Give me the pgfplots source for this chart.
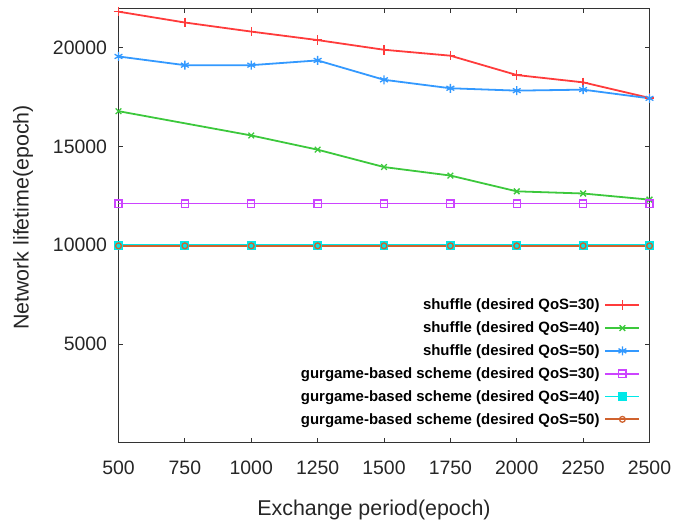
\documentclass[border=0pt]{standalone}
\usepackage{pgfplots}
\pgfplotsset{compat=1.18}
\usepackage{fontspec}
\setmainfont{Liberation Sans}
\definecolor{cRed}{HTML}{FF3B3B}
\definecolor{cGreen}{HTML}{3CC83C}
\definecolor{cBlue}{HTML}{3399FF}
\definecolor{cMag}{HTML}{CC44FF}
\definecolor{cCyan}{HTML}{00E8E8}
\definecolor{cOrange}{HTML}{D0622E}
\begin{document}
\begin{tikzpicture}
\useasboundingbox (-118.5bp,-80.3bp) rectangle (556.5bp,434.4bp+8.3bp);
\begin{axis}[
  scale only axis,
  width=531bp, height=434.4bp,
  xmin=500, xmax=2500, ymin=0, ymax=22000,
  xtick={500,750,1000,1250,1500,1750,2000,2250,2500},
  ytick={5000,10000,15000,20000},
  scaled y ticks=false, scaled x ticks=false,
  tick pos=both, tick align=inside,
  major tick length=4.5bp,
  axis line style={black!80, line width=1.2pt},
  every tick/.style={black!80, line width=0.9pt},
  /pgf/number format/assume math mode=true,
  /pgf/number format/1000 sep={},
  tick label style={font=\fontsize{19.5}{22}\selectfont, text=black!85},
  xticklabel style={yshift=-15bp},
  yticklabel style={xshift=-8bp},
  xlabel={Exchange period(epoch)},
  ylabel={Network lifetime(epoch)},
  label style={font=\fontsize{21.5}{24}\selectfont, text=black!85},
  xlabel style={yshift=-18bp, xshift=-10bp},
  ylabel style={yshift=13bp, xshift=8bp},
  legend style={draw=none, fill=none, at={(rel axis cs:1,0)}, anchor=south east,
    xshift=-9bp, yshift=17bp,
    font=\bfseries\fontsize{15}{16}\selectfont,
    row sep=10.5bp, inner sep=0pt,
    nodes={inner xsep=5bp, inner ysep=0pt}},
  legend cell align=right,
  legend plot pos=right,
  legend image code/.code={
    \draw[line width=1.8pt, #1, mark repeat=2, mark phase=2] plot coordinates {(0bp,0bp) (17bp,0bp) (34bp,0bp)};
  },
  every axis plot/.append style={line width=1.8pt, mark size=4.8bp},
]
\addplot[cRed, mark=+, mark options={line width=1.3pt}] coordinates {
 (500,21830) (750,21280) (1000,20820) (1250,20390) (1500,19900)
 (1750,19600) (2000,18620) (2250,18250) (2500,17460)};
\addlegendentry{shuffle (desired QoS=30)}
\addplot[cGreen, mark=x, mark size=4bp, mark options={line width=1.3pt}] coordinates {
 (500,16790) (1000,15560) (1250,14840) (1500,13960)
 (1750,13530) (2000,12730) (2250,12620) (2500,12310)};
\addlegendentry{shuffle (desired QoS=40)}
\addplot[cBlue, mark=asterisk, mark size=4.5bp, mark options={line width=1.3pt}] coordinates {
 (500,19560) (750,19120) (1000,19120) (1250,19360) (1500,18380)
 (1750,17950) (2000,17830) (2250,17880) (2500,17440)};
\addlegendentry{shuffle (desired QoS=50)}
\addplot[cMag, mark=square, mark size=3.6bp, mark options={line width=1.3pt}] coordinates {
 (500,12110) (750,12110) (1000,12110) (1250,12110) (1500,12110)
 (1750,12110) (2000,12110) (2250,12110) (2500,12110)};
\addlegendentry{gurgame-based scheme (desired QoS=30)}
\addplot[cCyan, mark=square*, mark size=3.6bp] coordinates {
 (500,10010) (750,10010) (1000,10010) (1250,10010) (1500,10010)
 (1750,10010) (2000,10010) (2250,10010) (2500,10010)};
\addlegendentry{gurgame-based scheme (desired QoS=40)}
\addplot[cOrange, mark=o, mark size=2.9bp, mark options={line width=1.3pt}] coordinates {
 (500,9970) (750,9970) (1000,9970) (1250,9970) (1500,9970)
 (1750,9970) (2000,9970) (2250,9970) (2500,9970)};
\addlegendentry{gurgame-based scheme (desired QoS=50)}
\end{axis}
\end{tikzpicture}
\end{document}
